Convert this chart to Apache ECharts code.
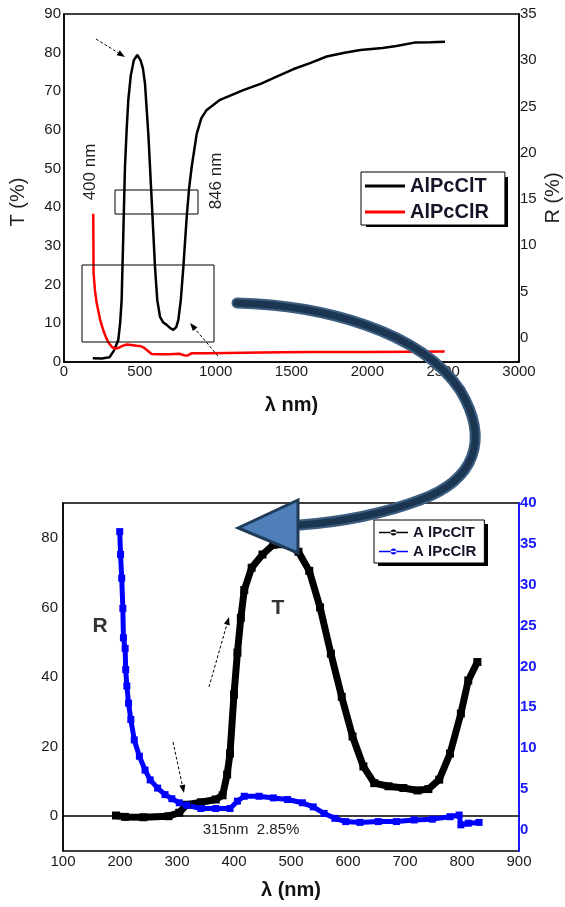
<!DOCTYPE html>
<html>
<head>
<meta charset="utf-8">
<script src="https://cdn.jsdelivr.net/npm/echarts@6.0.0/dist/echarts.min.js"></script>
<style>
    html, body { margin: 0; padding: 0; background: #fff; }
    #main { width: 565px; height: 907px; }
</style>
</head>
<body>
<div id="main"></div>
<script>
// upper panel: full range spectra
var topTLam = [190, 250, 300, 330, 358, 370, 380, 391, 402, 413, 424, 440, 460, 483, 505, 520, 534, 556, 578, 600,
    615, 633, 655, 677, 700, 721, 740, 754, 770, 787, 809, 825, 842, 875, 905, 941, 1029, 1182, 1300, 1402,
    1510, 1622, 1732, 1850, 1954, 2100, 2192, 2310, 2420, 2512];
var topTVal = [1.0, 0.9, 1.2, 3, 5.7, 10, 16, 33, 50.5, 60, 67.8, 74, 78, 79.4, 78, 76, 72, 59, 42, 24.6,
    16, 11.7, 10.2, 9.6, 8.8, 8.3, 9, 10.9, 16, 24.6, 37.5, 45, 50.5, 59, 63, 65.2, 67.8, 70.3, 72, 73.8,
    75.7, 77.3, 79, 80, 80.7, 81.2, 81.7, 82.6, 82.7, 82.8];
var topRLam = [193, 194, 195, 204, 215, 226, 240, 259, 275, 292, 315, 336, 360, 385, 413, 445, 479, 500, 523, 550,
    578, 620, 700, 760, 800, 820, 840, 950, 1073, 1300, 1600, 2000, 2300, 2510];
var topRVal = [13.4, 10, 7, 5.1, 3.8, 2.9, 1.8, 0.8, 0.1, -0.5, -1.0, -1.2, -1.1, -0.9, -0.75, -0.8, -0.87, -0.9, -1.05, -1.4,
    -1.77, -1.8, -1.8, -1.75, -1.95, -1.9, -1.7, -1.7, -1.66, -1.6, -1.55, -1.55, -1.52, -1.5];

// lower panel: UV-vis zoom
var botTLam = [193, 209, 241, 285, 304, 317, 342, 368, 380, 388, 393, 400, 406, 412, 418, 431, 450, 469, 494, 513,
    532, 551, 570, 589, 608, 627, 646, 671, 697, 722, 741, 760, 779, 798, 811, 827];
var botTVal = [0.2, -0.2, -0.3, 0, 1, 3.3, 4, 4.8, 6, 12, 18, 35, 47, 57, 65, 71.4, 75.2, 78, 78, 76,
    70.5, 60, 46.7, 34.3, 22.9, 14.3, 9.5, 8.6, 8.1, 7.4, 7.8, 10.5, 18, 29.5, 39, 44.3];
var botRLam = [199.5, 201, 203, 205, 206, 209, 210, 212, 215, 219, 225, 234, 244, 253, 266, 279, 291, 304, 317, 342,
    368, 393, 406, 418, 444, 469, 494, 520, 539, 558, 577, 596, 621, 653, 685, 716, 748, 779, 795, 798, 811, 830];
var botRVal = [36.5, 33.7, 30.8, 27.1, 23.5, 22.2, 19.6, 17.6, 15.5, 13.5, 11, 9, 7.3, 6.1, 5.1, 4.3, 3.8, 3.3, 3.0, 2.6,
    2.6, 2.6, 3.5, 4.1, 4.1, 3.9, 3.7, 3.3, 2.8, 2.0, 1.4, 1.0, 0.9, 1.0, 1.0, 1.2, 1.3, 1.6, 1.8, 0.6, 0.8, 0.9];

var topRTicks = [0, 5, 10, 15, 20, 25, 30, 35];
var botTTicks = [0, 20, 40, 60, 80];
var botRTicks = [0, 5, 10, 15, 20, 25, 30, 35, 40];

var FONT = "'Liberation Sans', Arial, sans-serif";
var BLUE = '#1a1aff';

function pairs(xs, ys) {
    return xs.map(function (x, i) {
        return [x, ys[i]];
    });
}

function plain(v) {
    return String(v);
}

// thin dashed pointer with a small filled head
function pointer(x1, y1, x2, y2) {
    var dx = x2 - x1, dy = y2 - y1;
    var len = Math.sqrt(dx * dx + dy * dy);
    var ux = dx / len, uy = dy / len;
    var bx = x2 - ux * 8, by = y2 - uy * 8;
    var px = -uy * 3, py = ux * 3;
    return [{
        type: 'line',
        shape: {x1: x1, y1: y1, x2: bx, y2: by},
        style: {stroke: '#000', lineWidth: 1, lineDash: [3, 2]},
        z: 50
    }, {
        type: 'polygon',
        shape: {points: [[x2, y2], [bx + px, by + py], [bx - px, by - py]]},
        style: {fill: '#000'},
        z: 50
    }];
}

// the big curved arrow, as three cubic pieces
var bigCurve = [
    [237, 303, 320, 305, 420, 330, 460, 390],
    [460, 390, 490, 440, 475, 480, 420, 500],
    [420, 500, 380, 515, 340, 522, 300, 525]
];

function curvePieces(color, width, z) {
    return bigCurve.map(function (c) {
        return {
            type: 'bezierCurve',
            shape: {x1: c[0], y1: c[1], cpx1: c[2], cpy1: c[3], cpx2: c[4], cpy2: c[5], x2: c[6], y2: c[7]},
            style: {fill: null, stroke: color, lineWidth: width, lineCap: 'round'},
            z: z
        };
    });
}

function valAxis(extra) {
    var a = {
        type: 'value',
        axisLine: {show: true, lineStyle: {color: '#000', width: 1.5}},
        axisTick: {show: false},
        splitLine: {show: false},
        axisLabel: {color: '#1a1a1a', fontSize: 15, fontFamily: FONT, margin: 3, formatter: plain}
    };
    for (var k in extra) a[k] = extra[k];
    return a;
}

var myChart = echarts.init(document.getElementById('main'));

var graphics = [
    // drop shadows behind the two legend boxes
    {type: 'rect', shape: {x: 366, y: 177, width: 142, height: 50}, style: {fill: '#000'}, z: 3},
    {type: 'rect', shape: {x: 378, y: 524, width: 110, height: 42}, style: {fill: '#000'}, z: 3},
    {type: 'rect', shape: {x: 115, y: 190, width: 83, height: 24}, style: {fill: 'none', stroke: '#000', lineWidth: 1}, z: 40},
    {type: 'rect', shape: {x: 82, y: 265, width: 132, height: 77}, style: {fill: 'none', stroke: '#000', lineWidth: 1}, z: 40},
    {type: 'text', x: 90, y: 172, rotation: Math.PI / 2, style: {text: '400 nm', font: '17px ' + FONT, fill: '#222', align: 'center', verticalAlign: 'middle'}, z: 40},
    {type: 'text', x: 216, y: 181, rotation: Math.PI / 2, style: {text: '846 nm', font: '17px ' + FONT, fill: '#222', align: 'center', verticalAlign: 'middle'}, z: 40},
    {type: 'text', x: 18, y: 202, rotation: Math.PI / 2, style: {text: 'T (%)', font: '20px ' + FONT, fill: '#222', align: 'center', verticalAlign: 'middle'}, z: 40},
    {type: 'text', x: 553, y: 198, rotation: Math.PI / 2, style: {text: 'R (%)', font: '20px ' + FONT, fill: '#222', align: 'center', verticalAlign: 'middle'}, z: 40},
    {type: 'text', x: 100, y: 626, style: {text: 'R', font: 'bold 21px ' + FONT, fill: '#333', align: 'center', verticalAlign: 'middle'}, z: 40},
    {type: 'text', x: 278, y: 608, style: {text: 'T', font: 'bold 21px ' + FONT, fill: '#333', align: 'center', verticalAlign: 'middle'}, z: 40},
    {type: 'text', x: 251, y: 830, style: {text: '315nm  2.85%', font: '15px ' + FONT, fill: '#222', align: 'center', verticalAlign: 'middle'}, z: 40},
    {
        type: 'polygon',
        shape: {points: [[238, 528], [298, 500], [298, 553]]},
        style: {fill: '#4f7fb8', stroke: '#1f3a57', lineWidth: 3, lineJoin: 'miter'},
        z: 62
    }
];
graphics = graphics.concat(curvePieces('#3c5d80', 11, 60), curvePieces('#1c3652', 7, 61),
    pointer(96, 39, 125, 57), pointer(218, 356, 190, 323),
    pointer(209, 687, 229, 617), pointer(173, 742, 184, 793));

var option = {
    animation: false,
    backgroundColor: '#fff',
    grid: [
        {left: 64, top: 14, width: 455, height: 348, show: true, borderColor: '#000', borderWidth: 1.5},
        {left: 63, top: 503, width: 456, height: 348, show: true, borderColor: '#000', borderWidth: 1.5}
    ],
    legend: [{
        data: ['AlPcClT', 'AlPcClR'],
        orient: 'vertical',
        z: 10,
        left: 361,
        top: 172,
        padding: [4, 16, 3, 4],
        itemGap: 6,
        itemWidth: 40,
        itemHeight: 3,
        icon: 'path://M0,0 H40 V3 H0 Z',
        backgroundColor: '#fff',
        borderColor: '#000',
        borderWidth: 1,
        borderRadius: 0,
        textStyle: {fontSize: 20, fontWeight: 'bold', color: '#141428', fontFamily: FONT}
    }, {
        data: ['A lPcClT', 'A lPcClR'],
        orient: 'vertical',
        z: 10,
        left: 374,
        top: 520,
        padding: [5, 8, 4, 5],
        itemGap: 4,
        itemWidth: 29,
        itemHeight: 7,
        icon: 'path://M0,3.3 H30 V4.7 H0 Z M15,1 A3,3 0 1,0 15.01,1 Z',
        backgroundColor: '#fff',
        borderColor: '#000',
        borderWidth: 1,
        borderRadius: 0,
        textStyle: {fontSize: 15, fontWeight: 'bold', color: '#141428', fontFamily: FONT}
    }],
    xAxis: [
        valAxis({
            gridIndex: 0, min: 0, max: 3000, interval: 500,
            name: 'λ nm)', nameLocation: 'middle', nameGap: 33,
            nameTextStyle: {fontSize: 20, fontWeight: 'bold', color: '#111', fontFamily: FONT},
            axisLabel: {color: '#1a1a1a', fontSize: 15, fontFamily: FONT, margin: 2, formatter: plain}
        }),
        valAxis({
            gridIndex: 1, min: 100, max: 900, interval: 100,
            name: 'λ (nm)', nameLocation: 'middle', nameGap: 29,
            nameTextStyle: {fontSize: 20, fontWeight: 'bold', color: '#111', fontFamily: FONT},
            axisLabel: {color: '#1a1a1a', fontSize: 15, fontFamily: FONT, margin: 3, formatter: plain}
        })
    ],
    yAxis: [
        valAxis({gridIndex: 0, position: 'left', min: 0, max: 90, interval: 10}),
        valAxis({
            gridIndex: 0, position: 'right', min: -2.64, max: 35,
            axisLabel: {color: '#1a1a1a', fontSize: 15, fontFamily: FONT, margin: 1, customValues: topRTicks}
        }),
        valAxis({
            gridIndex: 1, position: 'left', min: -10, max: 90,
            axisLabel: {color: '#1a1a1a', fontSize: 15, fontFamily: FONT, margin: 5, customValues: botTTicks}
        }),
        valAxis({
            gridIndex: 1, position: 'right', min: -2.6, max: 40,
            axisLine: {show: true, lineStyle: {color: BLUE, width: 2}},
            axisLabel: {color: BLUE, fontSize: 15, fontWeight: 'bold', fontFamily: FONT, margin: 1, customValues: botRTicks}
        })
    ],
    series: [{
        name: 'AlPcClT',
        type: 'line',
        xAxisIndex: 0,
        yAxisIndex: 0,
        symbol: 'none',
        data: pairs(topTLam, topTVal),
        itemStyle: {color: '#000'},
        lineStyle: {color: '#000', width: 2.5}
    }, {
        name: 'AlPcClR',
        type: 'line',
        xAxisIndex: 0,
        yAxisIndex: 1,
        symbol: 'none',
        data: pairs(topRLam, topRVal),
        itemStyle: {color: '#ff0000'},
        lineStyle: {color: '#ff0000', width: 2.5}
    }, {
        name: 'A lPcClT',
        type: 'line',
        xAxisIndex: 1,
        yAxisIndex: 2,
        symbol: 'rect',
        symbolSize: 8,
        data: pairs(botTLam, botTVal),
        itemStyle: {color: '#000'},
        lineStyle: {color: '#000', width: 7}
    }, {
        name: 'A lPcClR',
        type: 'line',
        xAxisIndex: 1,
        yAxisIndex: 3,
        symbol: 'rect',
        symbolSize: 7,
        data: pairs(botRLam, botRVal),
        itemStyle: {color: '#0000ff'},
        lineStyle: {color: '#0000ff', width: 5}
    }],
    graphic: graphics
};

myChart.setOption(option);
</script>
</body>
</html>
